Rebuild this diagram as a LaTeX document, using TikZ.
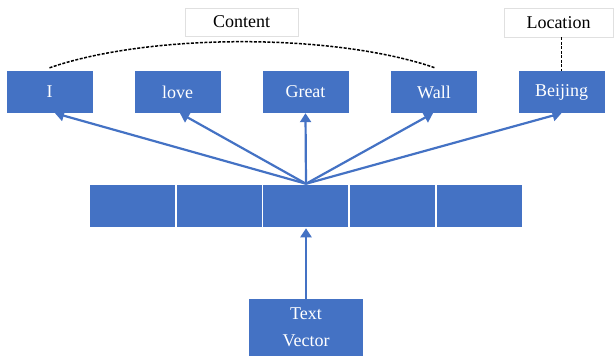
\documentclass[tikz,border=0pt]{standalone}
\usepackage{fontspec}
\setmainfont{Liberation Serif}
\usetikzlibrary{arrows.meta,calc}
\definecolor{boxblue}{HTML}{4472C4}
\tikzset{
  bluebox/.style={fill=boxblue, draw=none, text=white, minimum width=86pt, minimum height=42pt, inner sep=0pt, font=\fontsize{18}{27}\selectfont},
  cellbox/.style={fill=boxblue, draw=white, line width=1.5pt, minimum width=87pt, minimum height=43pt, inner sep=0pt},
  labelbox/.style={fill=white, draw=black!12, line width=0.6pt, inner sep=0pt, font=\fontsize{18}{20}\selectfont},
  arr/.style={draw=boxblue, line width=2.2pt, -{Triangle[length=9pt,width=11pt]}},
  dashline/.style={draw=black, line width=1.5pt, dash pattern=on 3pt off 1.5pt}
}
\begin{document}
\begin{tikzpicture}[x=1pt,y=-1pt]
\useasboundingbox (0,0) rectangle (614,356);
% top word boxes
\node[bluebox] (I) at (49.5,92) {I};
\node[bluebox] (love) at (177.5,92) {love};
\node[bluebox] (great) at (305.5,92) {Great};
\node[bluebox] (wall) at (434,92) {Wall};
\node[bluebox] (beijing) at (561.5,92) {Beijing};
% label boxes
\node[labelbox, minimum width=113pt, minimum height=28pt] (content) at (241.5,22) {Content};
\node[labelbox, minimum width=109pt, minimum height=29pt] (location) at (558.5,22.5) {Location};
% middle cells
\node[cellbox] (c1) at (132.5,206) {};
\node[cellbox] (c2) at (219.5,206) {};
\node[cellbox] (c3) at (306,206) {};
\node[cellbox] (c4) at (392.5,206) {};
\node[cellbox] (c5) at (479.5,206) {};
% text vector box
\node[bluebox, minimum width=114pt, minimum height=57pt, align=center] (tv) at (306,327.5) {Text\\Vector};
% fan origin
\coordinate (fan) at (c3.north);
\draw[arr] (fan) -- ($(I.south)+(5.5,0)$);
\draw[arr] (fan) -- ($(love.south)+(2.5,0)$);
\draw[arr] (fan) -- (great.south);
\draw[arr] (fan) -- ($(wall.south)+(-1,0)$);
\draw[arr] (fan) -- (beijing.south);
\draw[arr] (tv.north) -- (c3.south);
% dashed connectors
\draw[dashline] ($(I.north)+(0,-3)$) .. controls (150,33) and (334,33) .. ($(wall.north)+(1,-3)$);
\draw[dashline] (location.south -| beijing.north) -- (beijing.north);
\end{tikzpicture}
\end{document}
